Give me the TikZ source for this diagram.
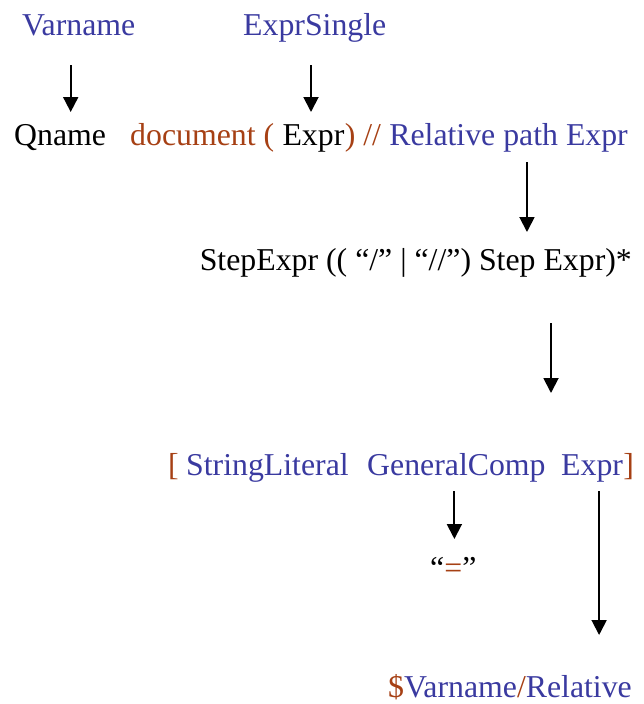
\documentclass[tikz,border=0pt]{standalone}
\usepackage{fontspec}
\setmainfont{Liberation Serif}
\usetikzlibrary{arrows.meta}
\definecolor{gblue}{RGB}{58,58,160}
\definecolor{gbrown}{RGB}{166,64,20}
\tikzset{
  tok/.style={anchor=base west, inner sep=0pt, font=\fontsize{31.8pt}{38pt}\selectfont},
  tokr/.style={tok, anchor=base east},
  arr/.style={line width=1.9pt, -{Triangle[length=15pt,width=15pt]}},
}
\begin{document}
\begin{tikzpicture}[x=1pt,y=-1pt]
\useasboundingbox (0,0) rectangle (644,704);

% top row
\node[tok, text=gblue] (varname) at (22,35) {Varname};
\node[tok, text=gblue] (exprsingle) at (243,35) {ExprSingle};

% path expression row
\node[tok] (qname) at (14,145) {Qname};
\node[tok, text=gbrown] (docopen) at (130,145) {document (};
\node[tok] (expr) at ([shift={(8,0)}]docopen.base east) {Expr};
\node[tok, text=gbrown] (slashes) at (expr.base east) {) //};
\node[tok, text=gblue] (relpath) at ([shift={(8,0)}]slashes.base east) {Relative path Expr};

% relative path expansion
\node[tokr] (stepexpr) at (632,270) {StepExpr (( “/” | “//”) Step Expr)*};

% predicate
\node[tok, text=gbrown] (lbr) at (168,475) {[};
\node[tok, text=gblue] (strlit) at (186,475) {StringLiteral};
\node[tok, text=gblue] (gencomp) at (367,475) {GeneralComp};
\node[tok, text=gblue] (expr2) at (561,475) {Expr};
\node[tok, text=gbrown] (rbr) at (expr2.base east) {]};

% leaves
\node[tok] (eq) at (430,578) {“\textcolor{gbrown}{=}”};
\node[tokr, text=gblue] (varrel) at (632,697) {\textcolor{gbrown}{\$}Varname\textcolor{gbrown}{/}Relative};

% connector end points
\coordinate (a1) at ([shift={(48.7,30)}]varname.base west);
\coordinate (b1) at ([shift={(0,-33)}]qname.base west);
\coordinate (a2) at ([shift={(68,30)}]exprsingle.base west);
\coordinate (b2) at ([shift={(0,-33)}]expr.base);
\coordinate (a3) at ([shift={(-101,17)}]relpath.base east);
\coordinate (b3) at ([shift={(0,-38)}]stepexpr.base east);
\coordinate (a4) at ([shift={(-81,53)}]stepexpr.base east);
\coordinate (b4) at ([shift={(0,-82)}]expr2.base west);
\coordinate (a5) at ([shift={(-2,16)}]gencomp.base);
\coordinate (b5) at ([shift={(0,-39)}]eq.base);
\coordinate (a6) at ([shift={(7,16)}]expr2.base);
\coordinate (b6) at ([shift={(0,-62)}]varrel.base east);

% connectors
\draw[arr] (a1) -- (a1 |- b1);
\draw[arr] (a2) -- (a2 |- b2);
\draw[arr] (a3) -- (a3 |- b3);
\draw[arr] (a4) -- (a4 |- b4);
\draw[arr] (a5) -- (a5 |- b5);
\draw[arr] (a6) -- (a6 |- b6);
\end{tikzpicture}
\end{document}
